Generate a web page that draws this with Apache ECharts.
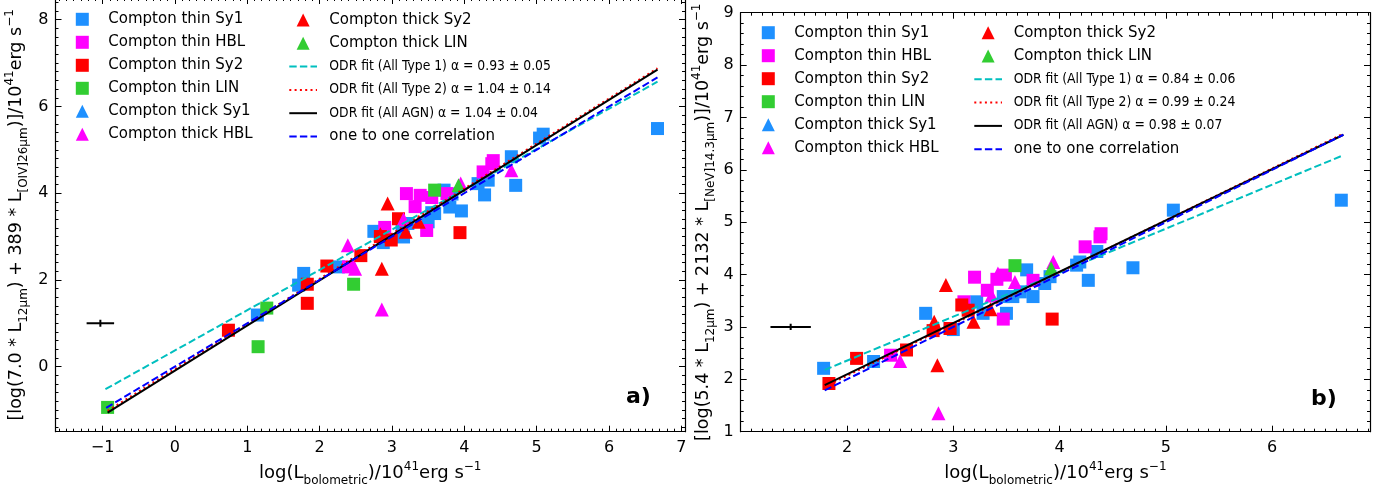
<!DOCTYPE html>
<html>
<head>
<meta charset="utf-8">
<script src="https://cdn.jsdelivr.net/npm/echarts@6/dist/echarts.min.js"></script>
<style>
html,body{margin:0;padding:0;background:#fff;}
#chart{width:1390px;height:493px;}
</style>
</head>
<body>
<div id="chart"></div>
<script>
// ---------------- DATA ----------------
const groupNames = ['Compton thin Sy1','Compton thin HBL','Compton thin Sy2','Compton thin LIN',
                    'Compton thick Sy1','Compton thick HBL','Compton thick Sy2','Compton thick LIN'];
const fitNamesA = ['ODR fit (All Type 1) α = 0.93 ± 0.05','ODR fit (All Type 2) α = 1.04 ± 0.14',
                   'ODR fit (All AGN) α = 1.04 ± 0.04','one to one correlation'];
const fitNamesB = ['ODR fit (All Type 1) α = 0.84 ± 0.06','ODR fit (All Type 2) α = 0.99 ± 0.24',
                   'ODR fit (All AGN) α = 0.98 ± 0.07','one to one correlation'];

// panel a) [log Lbol, log(7.0*L12 + 389*L[OIV])]
const aThinSy1 = [[1.14,1.19],[1.71,1.88],[1.78,2.15],[2.26,2.3],[2.75,3.12],[2.88,2.86],[3.16,2.99],[3.14,3.14],
  [3.22,3.3],[3.5,3.34],[3.55,3.55],[3.59,3.53],[3.72,4.07],[3.8,3.68],[3.83,3.98],[3.96,3.59],[4.19,4.22],
  [4.28,3.96],[4.33,4.3],[4.65,4.84],[4.71,4.18],[5.04,5.27],[5.09,5.36],[6.67,5.49]];
const aThinHBL = [[2.4,2.3],[2.9,3.21],[3.2,3.99],[3.32,3.69],[3.39,3.95],[3.48,3.14],[3.55,3.9],[3.76,3.99],
  [4.26,4.49],[4.38,4.68],[4.4,4.75]];
const aThinSy2 = [[0.74,0.84],[1.83,1.46],[1.83,1.9],[2.1,2.32],[2.57,2.56],[2.84,3.0],[2.99,2.92],[3.09,3.41],[3.94,3.09]];
const aThinLIN = [[-0.93,-0.94],[1.15,0.46],[1.27,1.35],[2.47,1.9],[3.59,4.07]];
const aThickSy1 = [];
const aThickHBL = [[2.39,2.8],[2.49,2.26],[2.86,1.32],[3.16,3.4],[3.95,4.22],[4.65,4.53]];
const aThickSy2 = [[2.84,3.05],[2.86,2.26],[2.94,3.76],[3.19,3.11],[3.37,3.34]];
const aThickLIN = [[3.92,4.18]];
const aFitType1 = [[-0.96,-0.52],[6.67,6.57]];
const aFitType2 = [[-0.93,-1.02],[6.67,6.88]];
const aFitAll   = [[-0.93,-1.06],[6.67,6.85]];
const aOneToOne = [[-0.95,-0.95],[6.67,6.67]];
const aErrBar   = [-1.03, 1.0, 0.19, 0.08]; // x, y, xerr, yerr

// panel b) [log Lbol, log(5.4*L12 + 2132*L[NeV])]
const bThinSy1 = [[1.78,2.21],[2.25,2.34],[2.74,3.26],[2.97,2.97],[3.0,2.95],[3.22,3.48],[3.28,3.26],[3.47,3.58],
  [3.5,3.26],[3.56,3.58],[3.63,3.67],[3.69,4.09],[3.75,3.58],[3.86,3.83],[3.91,3.96],[4.16,4.18],[4.19,4.24],
  [4.27,3.89],[4.35,4.44],[4.69,4.13],[5.07,5.23],[6.65,5.42]];
const bThinHBL = [[2.41,2.46],[3.1,3.48],[3.2,3.95],[3.32,3.7],[3.41,3.91],[3.47,3.15],[3.49,3.99],[3.75,3.89],
  [4.24,4.53],[4.38,4.72],[4.39,4.78]];
const bThinSy2 = [[1.83,1.92],[2.09,2.4],[2.56,2.56],[2.81,2.93],[2.97,2.97],[3.08,3.42],[3.14,3.32],[3.93,3.15]];
const bThinLIN = [[3.58,4.17]];
const bThickSy1 = [];
const bThickHBL = [[2.5,2.35],[2.86,1.35],[3.36,3.6],[3.42,4.02],[3.58,3.86],[3.94,4.24]];
const bThickSy2 = [[2.82,3.1],[2.85,2.27],[2.93,3.8],[3.19,3.1],[3.35,3.34]];
const bThickLIN = [[3.92,4.12]];
const bFitType1 = [[1.79,2.18],[6.67,6.28]];
const bFitType2 = [[1.79,1.86],[6.67,6.69]];
const bFitAll   = [[1.79,1.89],[6.67,6.67]];
const bOneToOne = [[1.79,1.79],[6.67,6.67]];
const bErrBar   = [1.47, 3.0, 0.19, 0.06];

// ---------------- STYLE ----------------
const FONT = 'DejaVu Sans';
const COND = "'DejaVu Sans Condensed', 'DejaVu Sans'";
const groupColors = ['#1E90FF','#FF00FF','#FF0000','#32CD32','#1E90FF','#FF00FF','#FF0000','#32CD32'];
const groupSymbols = ['rect','rect','rect','rect','triangle','triangle','triangle','triangle'];
const fitColors = ['#00BFBF','#FF0000','#000000','#0000FF'];
const fitDash = [[7.4,3.2],[2,3.3],'solid',[7.4,3.2]];
const TRI = 'path://M5,0 L10,10 L0,10 Z';

const richName = {
  sub: {fontFamily: FONT, fontSize: 12, lineHeight: 12, verticalAlign: 'bottom', color: '#000'},
  sup: {fontFamily: FONT, fontSize: 12, lineHeight: 12, verticalAlign: 'top', color: '#000'}
};
function nameStyle(size){
  return {fontFamily: FONT, fontSize: size, color: '#000', lineHeight: 26, rich: richName};
}
function tickFmt(v){
  if (Math.abs(v - Math.round(v)) > 1e-6) return '';
  return String(Math.round(v)).replace('-', '\u2212');
}
function axisCommon(min, max, ext){
  return Object.assign({
    type: 'value', min: min, max: max,
    axisLine: {show: true, onZero: false, lineStyle: {color: '#000', width: 1.2}},
    axisTick: {show: true, inside: true, length: 6, lineStyle: {color: '#000', width: 1}},
    minorTick: {show: true, splitNumber: 10, length: 3, lineStyle: {color: '#000', width: 1}},
    splitLine: {show: false}, minorSplitLine: {show: false},
    axisLabel: {show: true, formatter: tickFmt, fontFamily: FONT, fontSize: 16, color: '#000', margin: 8}
  }, ext || {});
}
function mirror(ax, pos){
  const m = JSON.parse(JSON.stringify(ax));
  m.axisLabel = {show: false};
  m.position = pos;
  delete m.name;
  return m;
}

const xLabel = 'log(L{sub|bolometric})/10{sup|41}erg s{sup|\u22121}';
const yLabelA = '[log(7.0 * L{sub|12\u03bcm}) + 389 * L{sub|[OIV]26\u03bcm})]/10{sup|41}erg s{sup|\u22121}';
const yLabelB = '[log(5.4 * L{sub|12\u03bcm}) + 2132 * L{sub|[NeV]14.3\u03bcm})]/10{sup|41}erg s{sup|\u22121}';

// axes
const axA_x = axisCommon(-1.65, 7.05, {gridIndex: 0, position: 'bottom', splitNumber: 9,
  name: xLabel, nameLocation: 'middle', nameGap: 25, nameTextStyle: nameStyle(18)});
const axA_y = axisCommon(-1.5, 8.5, {gridIndex: 0, position: 'left', splitNumber: 5,
  name: yLabelA, nameLocation: 'middle', nameRotate: 90, nameGap: 26, nameTextStyle: nameStyle(17.5)});
axA_y.axisLabel.margin = 7;
const axB_x = axisCommon(1, 6.92, {gridIndex: 1, position: 'bottom', interval: 1,
  name: xLabel, nameLocation: 'middle', nameGap: 25, nameTextStyle: nameStyle(18)});
axB_x.axisLabel.showMinLabel = false;
const axB_y = axisCommon(1, 9, {gridIndex: 1, position: 'left', interval: 1,
  name: yLabelB, nameLocation: 'middle', nameRotate: 90, nameGap: 24, nameTextStyle: nameStyle(17.5)});
axB_y.minorTick.splitNumber = 5;
axB_y.axisLabel.margin = 7;

const xAxes = [axA_x, axB_x, mirror(axA_x, 'top'), mirror(axB_x, 'top')];
const yAxes = [axA_y, axB_y, mirror(axA_y, 'right'), mirror(axB_y, 'right')];

// series
function buildSeries(p, groups, fits, fitNames, err){
  const s = [];
  groups.forEach((d, i) => {
    s.push({type: 'scatter', name: groupNames[i], xAxisIndex: p, yAxisIndex: p, data: d,
      symbol: groupSymbols[i], symbolSize: groupSymbols[i] === 'rect' ? 13 : 14,
      itemStyle: {color: groupColors[i], opacity: 1}, z: 2});
  });
  const ex = err[0], ey = err[1], dx = err[2], dy = err[3];
  [[[ex - dx, ey], [ex + dx, ey]], [[ex, ey - dy], [ex, ey + dy]]].forEach(seg => {
    s.push({type: 'line', xAxisIndex: p, yAxisIndex: p, data: seg, symbol: 'none', silent: true,
      lineStyle: {color: '#000', width: 2}, z: 3});
  });
  fits.forEach((d, i) => {
    s.push({type: 'line', name: fitNames[i], xAxisIndex: p, yAxisIndex: p, data: d, symbol: 'none',
      showSymbol: false, silent: true,
      lineStyle: {color: fitColors[i], width: 2, type: fitDash[i]},
      itemStyle: {color: fitColors[i], opacity: 0}, z: 4 + i});
  });
  return s;
}
const series = [].concat(
  buildSeries(0, [aThinSy1,aThinHBL,aThinSy2,aThinLIN,aThickSy1,aThickHBL,aThickSy2,aThickLIN],
              [aFitType1,aFitType2,aFitAll,aOneToOne], fitNamesA, aErrBar),
  buildSeries(1, [bThinSy1,bThinHBL,bThinSy2,bThinLIN,bThickSy1,bThickHBL,bThickSy2,bThickLIN],
              [bFitType1,bFitType2,bFitAll,bOneToOne], fitNamesB, bErrBar)
);

// legends
function legendCol1(left, top){
  return {orient: 'vertical', left: left, top: top, padding: 0, itemGap: 6, selectedMode: false,
    itemWidth: 13, itemHeight: 13,
    data: groupNames.slice(0, 6).map((n, i) => ({name: n, icon: i < 4 ? 'rect' : TRI})),
    textStyle: {fontFamily: FONT, fontSize: 15, color: '#000', lineHeight: 17, padding: [0, 0, 0, 14.5]}};
}
function legendCol2(left, top, fitNames, pad){
  return {orient: 'vertical', left: left, top: top, padding: 0, itemGap: 5.3, selectedMode: false,
    itemWidth: 27.7, itemHeight: 13,
    data: [{name: groupNames[6], icon: TRI}, {name: groupNames[7], icon: TRI}]
      .concat(fitNames.map(n => ({name: n, itemStyle: {opacity: 0}}))),
    formatter: n => n.indexOf('ODR') === 0 ? '{c|' + n + '}' : n,
    textStyle: {fontFamily: FONT, fontSize: 15, color: '#000', lineHeight: 18, padding: [0, 0, 0, pad],
      rich: {c: {fontFamily: COND, fontSize: 13.8, color: '#000', lineHeight: 18}}}};
}

const option = {
  animation: false,
  backgroundColor: '#fff',
  grid: [
    {left: 55.5, top: -2, width: 629.5, height: 433.7, outerBoundsMode: 'none', containLabel: false},
    {left: 740.7, top: 12.7, width: 629.3, height: 419, outerBoundsMode: 'none', containLabel: false}
  ],
  xAxis: xAxes,
  yAxis: yAxes,
  legend: [
    legendCol1(75.8, 10.8), legendCol2(288.3, 11, fitNamesA, 7.3),
    legendCol1(761.8, 24.2), legendCol2(973.3, 23.7, fitNamesB, 6.7)
  ],
  graphic: [
    {type: 'text', left: 626, top: 386, style: {text: 'a)', font: 'bold 22px "DejaVu Sans"', fill: '#000'}},
    {type: 'text', left: 1311, top: 388, style: {text: 'b)', font: 'bold 22px "DejaVu Sans"', fill: '#000'}}
  ],
  series: series
};
const chart = echarts.init(document.getElementById('chart'), null, {renderer: 'canvas'});
chart.setOption(option);
</script>
</body>
</html>
